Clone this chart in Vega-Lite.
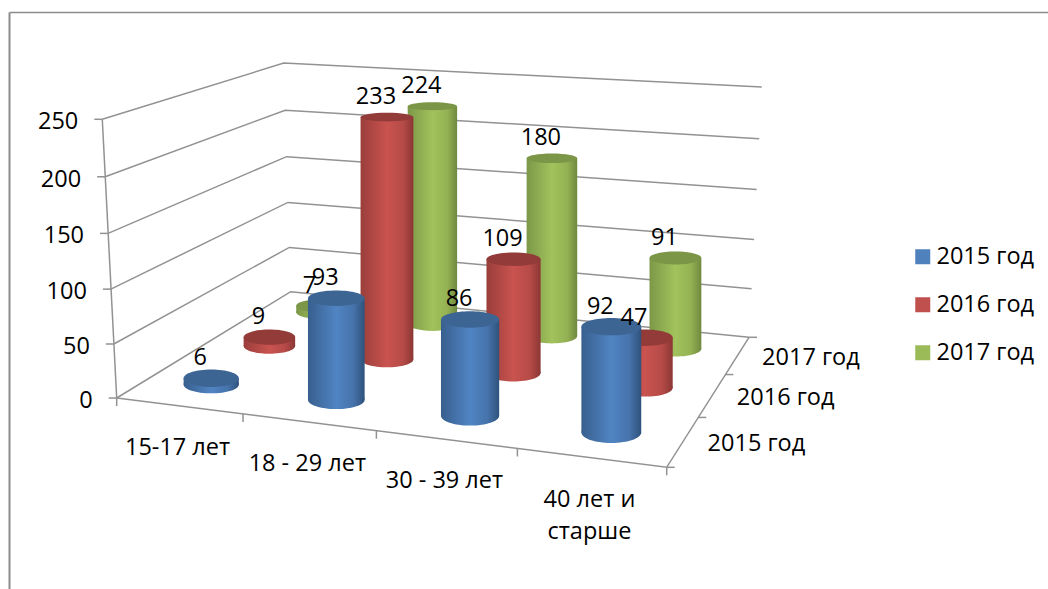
{"$schema":"https://vega.github.io/schema/vega-lite/v6.json","width":1039,"height":577,"padding":{"left":9,"top":12,"right":0,"bottom":0},"autosize":{"type":"none"},"background":"white","config":{"view":{"stroke":null},"axis":{"ticks":false,"labels":false,"grid":false,"title":null,"domainColor":"#8c8c8c"},"text":{"font":"Open Sans","fontSize":23.5,"color":"#000000"}},
"data":{"values":[
{"kind":"bar","category":"15-17 лет","series":"2015 год","value":6},
{"kind":"bar","category":"18 - 29 лет","series":"2015 год","value":93},
{"kind":"bar","category":"30 - 39 лет","series":"2015 год","value":86},
{"kind":"bar","category":"40 лет и старше","series":"2015 год","value":92},
{"kind":"bar","category":"15-17 лет","series":"2016 год","value":9},
{"kind":"bar","category":"18 - 29 лет","series":"2016 год","value":233},
{"kind":"bar","category":"30 - 39 лет","series":"2016 год","value":109},
{"kind":"bar","category":"40 лет и старше","series":"2016 год","value":47},
{"kind":"bar","category":"15-17 лет","series":"2017 год","value":7},
{"kind":"bar","category":"18 - 29 лет","series":"2017 год","value":224},
{"kind":"bar","category":"30 - 39 лет","series":"2017 год","value":180},
{"kind":"bar","category":"40 лет и старше","series":"2017 год","value":91},
{"kind":"line","g":"v0","i":0,"a":0,"b":0,"value":0},{"kind":"line","g":"v0","i":1,"a":0,"b":3,"value":0},{"kind":"line","g":"v0","i":2,"a":4,"b":3,"value":0},
{"kind":"line","g":"v50","i":0,"a":0,"b":0,"value":50},{"kind":"line","g":"v50","i":1,"a":0,"b":3,"value":50},{"kind":"line","g":"v50","i":2,"a":4,"b":3,"value":50},
{"kind":"line","g":"v100","i":0,"a":0,"b":0,"value":100},{"kind":"line","g":"v100","i":1,"a":0,"b":3,"value":100},{"kind":"line","g":"v100","i":2,"a":4,"b":3,"value":100},
{"kind":"line","g":"v150","i":0,"a":0,"b":0,"value":150},{"kind":"line","g":"v150","i":1,"a":0,"b":3,"value":150},{"kind":"line","g":"v150","i":2,"a":4,"b":3,"value":150},
{"kind":"line","g":"v200","i":0,"a":0,"b":0,"value":200},{"kind":"line","g":"v200","i":1,"a":0,"b":3,"value":200},{"kind":"line","g":"v200","i":2,"a":4,"b":3,"value":200},
{"kind":"line","g":"v250","i":0,"a":0,"b":0,"value":250},{"kind":"line","g":"v250","i":1,"a":0,"b":3,"value":250},{"kind":"line","g":"v250","i":2,"a":4,"b":3,"value":250},
{"kind":"line","g":"floor","i":0,"a":0,"b":0,"value":0},{"kind":"line","g":"floor","i":1,"a":4,"b":0,"value":0},{"kind":"line","g":"floor","i":2,"a":4,"b":3,"value":0},
{"kind":"line","g":"axis","i":0,"a":0,"b":0,"value":0},{"kind":"line","g":"axis","i":1,"a":0,"b":0,"value":250},
{"kind":"vtick","a":0,"b":0,"value":0,"label":"0"},{"kind":"vtick","a":0,"b":0,"value":50,"label":"50"},{"kind":"vtick","a":0,"b":0,"value":100,"label":"100"},{"kind":"vtick","a":0,"b":0,"value":150,"label":"150"},{"kind":"vtick","a":0,"b":0,"value":200,"label":"200"},{"kind":"vtick","a":0,"b":0,"value":250,"label":"250"},
{"kind":"utick","a":0,"b":0,"value":0},{"kind":"utick","a":1,"b":0,"value":0},{"kind":"utick","a":2,"b":0,"value":0},{"kind":"utick","a":3,"b":0,"value":0},{"kind":"utick","a":4,"b":0,"value":0},
{"kind":"stick","a":4,"b":0,"value":0},{"kind":"stick","a":4,"b":1,"value":0},{"kind":"stick","a":4,"b":2,"value":0},{"kind":"stick","a":4,"b":3,"value":0},
{"kind":"catlabel","a":0.5,"b":0,"value":0,"label":"15-17 лет"},{"kind":"catlabel","a":1.5,"b":0,"value":0,"label":"18 - 29 лет"},{"kind":"catlabel","a":2.5,"b":0,"value":0,"label":"30 - 39 лет"},{"kind":"catlabel","a":3.5,"b":0,"value":0,"label":"40 лет и\nстарше"},
{"kind":"serlabel","a":4,"b":0.5,"value":0,"label":"2015 год"},{"kind":"serlabel","a":4,"b":1.5,"value":0,"label":"2016 год"},{"kind":"serlabel","a":4,"b":2.5,"value":0,"label":"2017 год"}
]},
"transform":[
{"calculate":"isValid(datum.a) ? datum.a : indexof(['15-17 лет','18 - 29 лет','30 - 39 лет','40 лет и старше'],datum.category)+0.5","as":"u"},
{"calculate":"isValid(datum.b) ? datum.b : indexof(['2015 год','2016 год','2017 год'],datum.series)+0.5","as":"w"},
{"calculate":"1-0.10548*datum.u/4+0.21903*datum.w/3","as":"W"},
{"calculate":"(479.68*datum.u/4+237.67*datum.w/3+116.7)/datum.W","as":"x0"},
{"calculate":"(20.01*datum.u/4-42.41*datum.w/3+398)/datum.W","as":"y0"},
{"calculate":"datum.x0+(datum.x0-452)*0.000172*datum.value","as":"px"},
{"calculate":"datum.y0-1.0713/datum.W*(datum.value+0.0001625*datum.value*datum.value)","as":"py"},
{"calculate":"datum.px+(datum.kind=='vtick'?-8:datum.kind=='stick'?8:0)","as":"px2"},
{"calculate":"datum.py+(datum.kind=='utick'?8:0)","as":"py2"},
{"calculate":"(datum.x0+datum.px)/2","as":"barx"},
{"calculate":"56.5/datum.W","as":"bw"},
{"calculate":"datum.barx-datum.bw/2","as":"barL"},
{"calculate":"datum.barx+datum.bw/2","as":"barR"},
{"calculate":"datum.bw*datum.bw","as":"sz"},
{"calculate":"round((0.098+0.00058*datum.py)*1000)/1000","as":"at"},
{"calculate":"round((0.098+0.00058*datum.y0)*1000)/1000","as":"ab"},
{"calculate":"'M-1,0C-1,'+(-0.5523*datum.at)+',-0.5523,'+(-datum.at)+',0,'+(-datum.at)+'C0.5523,'+(-datum.at)+',1,'+(-0.5523*datum.at)+',1,0C1,'+(0.5523*datum.at)+',0.5523,'+datum.at+',0,'+datum.at+'C-0.5523,'+datum.at+',-1,'+(0.5523*datum.at)+',-1,0Z'","as":"topPath"},
{"calculate":"'M-1,0C-1,'+(-0.5523*datum.ab)+',-0.5523,'+(-datum.ab)+',0,'+(-datum.ab)+'C0.5523,'+(-datum.ab)+',1,'+(-0.5523*datum.ab)+',1,0C1,'+(0.5523*datum.ab)+',0.5523,'+datum.ab+',0,'+datum.ab+'C-0.5523,'+datum.ab+',-1,'+(0.5523*datum.ab)+',-1,0Z'","as":"botPath"}
],
"encoding":{"x":{"field":"px","type":"quantitative","scale":{"domain":[9,1048],"nice":false,"zero":false},"axis":{"orient":"top","domainWidth":1.5,"title":null}},"y":{"field":"py","type":"quantitative","scale":{"domain":[589,12],"nice":false,"zero":false},"axis":{"orient":"left","domainWidth":2,"title":null}}},
"layer":[
{"transform":[{"filter":"datum.kind=='line'"}],"mark":{"type":"line","color":"#929292","strokeWidth":1.5},"encoding":{"detail":{"field":"g"},"order":{"field":"i"}}},
{"transform":[{"filter":"datum.kind=='vtick'||datum.kind=='utick'||datum.kind=='stick'"}],"mark":{"type":"rule","color":"#929292","strokeWidth":1.5},"encoding":{"x2":{"field":"px2"},"y2":{"field":"py2"}}},
{"transform":[{"filter":"datum.kind=='bar'"}],"mark":{"type":"point","filled":true,"shape":"square","opacity":0},"encoding":{"color":{"field":"series","type":"nominal","scale":{"domain":["2015 год","2016 год","2017 год"],"range":["#4f81bd","#c0504d","#9bbb59"]},"legend":{"title":null,"orient":"none","legendX":902,"legendY":233,"symbolType":"square","symbolSize":225,"symbolOpacity":1,"symbolStrokeWidth":0,"labelFont":"Open Sans","labelFontSize":23.5,"labelColor":"#000000","rowPadding":23,"labelOffset":2,"padding":0}}}},

{"transform":[{"filter":"datum.kind=='bar'&&datum.series=='2017 год'"}],"mark":{"type":"point","filled":true,"opacity":1,"strokeWidth":0,"color":{"gradient":"linear","x1":0,"y1":0,"x2":1,"y2":0,"stops":[{"offset":0,"color":"#7c9848"},{"offset":0.5,"color":"#a1c25c"},{"offset":0.8,"color":"#94b254"},{"offset":1,"color":"#6f893f"}]}},"encoding":{"x":{"field":"barx"},"y":{"field":"y0"},"shape":{"field":"botPath","type":"nominal","scale":null,"legend":null},"size":{"field":"sz","type":"quantitative","scale":null,"legend":null}}},
{"transform":[{"filter":"datum.kind=='bar'&&datum.series=='2017 год'"}],"mark":{"type":"rect","color":{"gradient":"linear","x1":0,"y1":0,"x2":1,"y2":0,"stops":[{"offset":0,"color":"#7c9848"},{"offset":0.5,"color":"#a1c25c"},{"offset":0.8,"color":"#94b254"},{"offset":1,"color":"#6f893f"}]}},"encoding":{"x":{"field":"barL"},"x2":{"field":"barR"},"y":{"field":"py"},"y2":{"field":"y0"}}},
{"transform":[{"filter":"datum.kind=='bar'&&datum.series=='2017 год'"}],"mark":{"type":"point","filled":true,"opacity":1,"strokeWidth":0,"color":"#7b9646"},"encoding":{"x":{"field":"barx"},"y":{"field":"py"},"shape":{"field":"topPath","type":"nominal","scale":null,"legend":null},"size":{"field":"sz","type":"quantitative","scale":null,"legend":null}}},

{"transform":[{"filter":"datum.kind=='bar'&&datum.series=='2016 год'"}],"mark":{"type":"point","filled":true,"opacity":1,"strokeWidth":0,"color":{"gradient":"linear","x1":0,"y1":0,"x2":1,"y2":0,"stops":[{"offset":0,"color":"#9a3e3b"},{"offset":0.5,"color":"#c9534f"},{"offset":0.8,"color":"#b64b48"},{"offset":1,"color":"#8b3734"}]}},"encoding":{"x":{"field":"barx"},"y":{"field":"y0"},"shape":{"field":"botPath","type":"nominal","scale":null,"legend":null},"size":{"field":"sz","type":"quantitative","scale":null,"legend":null}}},
{"transform":[{"filter":"datum.kind=='bar'&&datum.series=='2016 год'"}],"mark":{"type":"rect","color":{"gradient":"linear","x1":0,"y1":0,"x2":1,"y2":0,"stops":[{"offset":0,"color":"#9a3e3b"},{"offset":0.5,"color":"#c9534f"},{"offset":0.8,"color":"#b64b48"},{"offset":1,"color":"#8b3734"}]}},"encoding":{"x":{"field":"barL"},"x2":{"field":"barR"},"y":{"field":"py"},"y2":{"field":"y0"}}},
{"transform":[{"filter":"datum.kind=='bar'&&datum.series=='2016 год'"}],"mark":{"type":"point","filled":true,"opacity":1,"strokeWidth":0,"color":"#923b39"},"encoding":{"x":{"field":"barx"},"y":{"field":"py"},"shape":{"field":"topPath","type":"nominal","scale":null,"legend":null},"size":{"field":"sz","type":"quantitative","scale":null,"legend":null}}},

{"transform":[{"filter":"datum.kind=='bar'&&datum.series=='2015 год'"}],"mark":{"type":"point","filled":true,"opacity":1,"strokeWidth":0,"color":{"gradient":"linear","x1":0,"y1":0,"x2":1,"y2":0,"stops":[{"offset":0,"color":"#385f8e"},{"offset":0.5,"color":"#5084c3"},{"offset":0.8,"color":"#4673ab"},{"offset":1,"color":"#2f527c"}]}},"encoding":{"x":{"field":"barx"},"y":{"field":"y0"},"shape":{"field":"botPath","type":"nominal","scale":null,"legend":null},"size":{"field":"sz","type":"quantitative","scale":null,"legend":null}}},
{"transform":[{"filter":"datum.kind=='bar'&&datum.series=='2015 год'"}],"mark":{"type":"rect","color":{"gradient":"linear","x1":0,"y1":0,"x2":1,"y2":0,"stops":[{"offset":0,"color":"#385f8e"},{"offset":0.5,"color":"#5084c3"},{"offset":0.8,"color":"#4673ab"},{"offset":1,"color":"#2f527c"}]}},"encoding":{"x":{"field":"barL"},"x2":{"field":"barR"},"y":{"field":"py"},"y2":{"field":"y0"}}},
{"transform":[{"filter":"datum.kind=='bar'&&datum.series=='2015 год'"}],"mark":{"type":"point","filled":true,"opacity":1,"strokeWidth":0,"color":"#3c6594"},"encoding":{"x":{"field":"barx"},"y":{"field":"py"},"shape":{"field":"topPath","type":"nominal","scale":null,"legend":null},"size":{"field":"sz","type":"quantitative","scale":null,"legend":null}}},

{"transform":[{"filter":"datum.kind=='bar'"}],"mark":{"type":"text","dx":-11,"dy":-20,"baseline":"middle","align":"center"},"encoding":{"x":{"field":"barx"},"text":{"field":"value","type":"quantitative"}}},
{"transform":[{"filter":"datum.kind=='vtick'"}],"mark":{"type":"text","dx":-24,"dy":3,"baseline":"middle","align":"right"},"encoding":{"text":{"field":"label"}}},
{"transform":[{"filter":"datum.kind=='catlabel'"}],"mark":{"type":"text","dx":-1.5,"dy":30,"baseline":"top","align":"center","lineBreak":"\n","lineHeight":32},"encoding":{"text":{"field":"label"}}},
{"transform":[{"filter":"datum.kind=='serlabel'"}],"mark":{"type":"text","dx":24.5,"dy":3,"baseline":"middle","align":"left"},"encoding":{"text":{"field":"label"}}}
]}
